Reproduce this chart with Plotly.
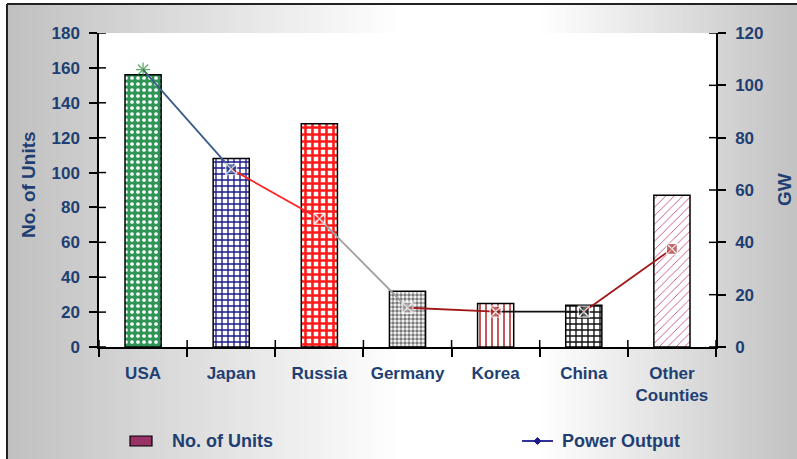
import plotly.graph_objects as go

# --- data -------------------------------------------------------------
countries = ["USA", "Japan", "Russia", "Germany", "Korea", "China", "Other<br>Counties"]
units = [156, 108, 128, 32, 25, 24, 87]            # No. of Units (left axis)
power_gw = [106, 68, 49, 15, 13.5, 13.5, 37.5]     # Power Output, GW (right axis)

# per-country styling
bar_bg = ["#2f9557", "white", "white", "white", "white", "white", "white"]
bar_fg = ["white", "#1a1a8c", "#ff1a1a", "#7a7a7a", "#b22222", "#111111", "#c05080"]
bar_shape = [".", "+", "+", ".", "|", "+", "/"]
bar_psize = [6, 6, 7, 4, 6, 6, 6]
bar_solid = [0.3, 0.4, 0.6, 0.6, 0.25, 0.4, 0.15]
pt_color = ["#1f8a2e", "#2a3f8a", "#ff2020", "#9a9a9a", "#b02828", "#222222", "#a52a2a"]
seg_color = ["#3c5a8a", "#ff2020", "#a0a0a0", "#a01818", "#111111", "#a01818"]

TXT = "#1f3f73"
FONT = "Liberation Sans"
W, H = 797, 459
L, R, T, B = 99, 716, 33, 347   # plot area in pixels


def px(x):
    return (x - L) / (R - L)


def py(y):
    return (B - y) / (B - T)


fig = go.Figure()

# one bar trace per country so each carries its own fill pattern
for i, c in enumerate(countries):
    fig.add_trace(go.Bar(
        x=[c], y=[units[i]], width=0.41, showlegend=False, yaxis="y",
        marker=dict(
            color=bar_bg[i],
            line=dict(color="black", width=1.5),
            pattern=dict(shape=bar_shape[i], bgcolor=bar_bg[i], fgcolor=bar_fg[i],
                         size=bar_psize[i], solidity=bar_solid[i], fillmode="replace"),
        ),
    ))

# power output line, each segment coloured like the point it runs to
for i in range(len(countries) - 1):
    fig.add_trace(go.Scatter(
        x=countries[i:i + 2], y=power_gw[i:i + 2], mode="lines",
        line=dict(color=seg_color[i], width=1.8), showlegend=False,
        yaxis="y2", hoverinfo="skip",
    ))

fig.add_trace(go.Scatter(
    x=countries, y=power_gw, mode="markers", showlegend=False, yaxis="y2",
    marker=dict(
        symbol=["asterisk-open"] + ["square-x"] * 6,
        size=[12, 11, 11, 11, 11, 11, 11],
        color=pt_color,
        line=dict(color=["#1f8a2e"] + ["white"] * 6, width=1.3),
    ),
))

shapes = []
# background: horizontal grey-white-grey gradient inside the frame
n = 160
x_start, x_end = 7, W
for k in range(n):
    x0 = x_start + (x_end - x_start) * k / n
    x1 = x_start + (x_end - x_start) * (k + 1) / n
    xc = (x0 + x1) / 2
    if xc < 400:
        g = 192 + (255 - 192) * max(0.0, min(1.0, (xc - 7) / 393))
    elif xc < 540:
        g = 255
    else:
        g = 255 - (255 - 194) * max(0.0, min(1.0, (xc - 540) / 257))
    g = int(round(g))
    shapes.append(dict(type="rect", xref="paper", yref="paper", layer="below",
                       x0=px(x0), x1=px(x1) + 0.002, y0=py(H + 5), y1=py(4),
                       fillcolor=f"rgb({g},{g},{g})", line=dict(width=0)))
# white plotting area
shapes.append(dict(type="rect", xref="paper", yref="paper", layer="below",
                   x0=0, x1=1, y0=0, y1=1, fillcolor="white", line=dict(width=0)))
# outer frame (top and left edges)
shapes.append(dict(type="line", xref="paper", yref="paper", x0=px(7), x1=px(W + 5),
                   y0=py(4), y1=py(4), line=dict(color="#222", width=2)))
shapes.append(dict(type="line", xref="paper", yref="paper", x0=px(7), x1=px(7),
                   y0=py(4), y1=py(H + 5), line=dict(color="#222", width=2)))

# inner halves of the crossing tick marks
for v in range(0, 181, 20):
    shapes.append(dict(type="line", xref="paper", yref="y", x0=0, x1=px(L + 7),
                       y0=v, y1=v, line=dict(color="black", width=1.5)))
for v in range(0, 121, 20):
    shapes.append(dict(type="line", xref="paper", yref="y2", x0=1, x1=px(R - 7),
                       y0=v, y1=v, line=dict(color="black", width=1.5)))
for k in range(len(countries) + 1):
    shapes.append(dict(type="line", xref="x", yref="paper", x0=k - 0.5, x1=k - 0.5,
                       y0=0, y1=py(B - 7), line=dict(color="black", width=1.5)))

# legend
shapes.append(dict(type="rect", xref="paper", yref="paper",
                   x0=px(130), x1=px(152), y0=py(446), y1=py(436),
                   fillcolor="#993366", line=dict(color="black", width=1.2)))
shapes.append(dict(type="line", xref="paper", yref="paper",
                   x0=px(522), x1=px(553), y0=py(441), y1=py(441),
                   line=dict(color="#1a1a8c", width=1.8)))
shapes.append(dict(type="path", xref="paper", yref="paper",
                   path=(f"M {px(537.5)},{py(437.5)} L {px(541)},{py(441)} "
                         f"L {px(537.5)},{py(444.5)} L {px(534)},{py(441)} Z"),
                   fillcolor="#1a1a8c", line=dict(color="#1a1a8c", width=1)))

font_b = dict(family=FONT, size=17, color=TXT, weight="bold")
annotations = [
    dict(text="No. of Units", xref="paper", yref="paper", x=px(170), y=py(441),
         xanchor="left", yanchor="middle", showarrow=False,
         font=dict(family=FONT, size=18, color=TXT, weight="bold")),
    dict(text="Power Output", xref="paper", yref="paper", x=px(560), y=py(441),
         xanchor="left", yanchor="middle", showarrow=False,
         font=dict(family=FONT, size=18, color=TXT, weight="bold")),
    dict(text="No. of Units", xref="paper", yref="paper", x=px(28), y=py(185),
         textangle=-90, xanchor="center", yanchor="middle", showarrow=False,
         font=dict(family=FONT, size=19, color=TXT, weight="bold")),
    dict(text="GW", xref="paper", yref="paper", x=px(784), y=py(190),
         textangle=-90, xanchor="center", yanchor="middle", showarrow=False,
         font=dict(family=FONT, size=19, color=TXT, weight="bold")),
]

fig.update_layout(
    width=W, height=H,
    margin=dict(l=L, r=W - R, t=T, b=H - B),
    paper_bgcolor="white", plot_bgcolor="white",
    showlegend=False, barmode="overlay",
    shapes=shapes, annotations=annotations,
    xaxis=dict(type="category", showgrid=False, showline=True, linecolor="black",
               linewidth=1.5, ticks="outside", ticklen=8, tickwidth=1.5,
               tickcolor="black", tickson="boundaries", tickfont=font_b,
               ticklabelstandoff=10,
               categoryorder="array", categoryarray=countries,
               range=[-0.5, len(countries) - 0.5], fixedrange=True),
    yaxis=dict(range=[0, 180], dtick=20, showgrid=False, zeroline=False,
               showline=True, linecolor="black", linewidth=1.5,
               ticks="outside", ticklen=8, tickwidth=1.5, tickcolor="black",
               tickfont=font_b, ticklabelstandoff=6),
    yaxis2=dict(range=[0, 120], dtick=20, overlaying="y", side="right",
                showgrid=False, zeroline=False, showline=True, linecolor="black",
                linewidth=1.5, ticks="outside", ticklen=8, tickwidth=1.5,
                tickcolor="black", tickfont=font_b, ticklabelstandoff=6),
)

fig.write_html("out.html")
